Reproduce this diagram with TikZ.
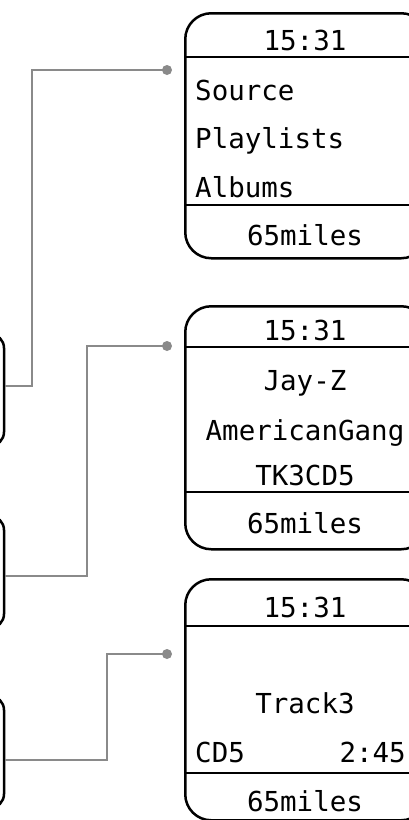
\documentclass[tikz,border=0pt]{standalone}
\usepackage{fontspec}
\setmonofont{DejaVu Sans Mono}
\definecolor{wiregray}{HTML}{8A8A8A}
\begin{document}
\begin{tikzpicture}[x=1pt,y=-1pt,
    screen/.style={draw, line width=2.5pt, rounded corners=26pt, minimum width=242pt, inner sep=0, anchor=north west},
    knob/.style={draw, line width=2.5pt, rounded corners=14pt, minimum width=108pt, minimum height=112pt, inner sep=0},
    rule/.style={line width=2.5pt},
    wire/.style={draw=wiregray, line width=2.5pt},
    pin/.style={circle, fill=wiregray, inner sep=0, minimum size=10pt},
    lcd/.style={font=\ttfamily\fontsize{27.5}{30}\selectfont, inner sep=0, anchor=base}]

      \useasboundingbox[fill=white] (0,0) rectangle (408,820);

      % screens
      \node[screen, minimum height=245pt] (menu) at (184,12) {};
      \node[screen, minimum height=243pt] (album) at (184,305) {};
      \node[screen, minimum height=241pt] (track) at (184,578) {};

      \draw[rule] (menu.west |- 0,57) -- (menu.east |- 0,57);
      \draw[rule] (menu.west |- 0,205) -- (menu.east |- 0,205);
      \draw[rule] (album.west |- 0,347) -- (album.east |- 0,347);
      \draw[rule] (album.west |- 0,492) -- (album.east |- 0,492);
      \draw[rule] (track.west |- 0,626) -- (track.east |- 0,626);
      \draw[rule] (track.west |- 0,773) -- (track.east |- 0,773);

      % menu screen
      \node[lcd] (menutime) at (305,50) {15:31};
      \node[lcd, anchor=base west] (source) at (195,100) {Source};
      \node[lcd, anchor=base west] (playlists) at (195,148) {Playlists};
      \node[lcd, anchor=base west] (albums) at (195,197) {Albums};
      \node[lcd] (menumiles) at (305,245) {65miles};

      % album screen
      \node[lcd] (albumtime) at (305,340) {15:31};
      \node[lcd] (artist) at (305,390) {Jay-Z};
      \node[lcd] (title) at (305,440) {AmericanGang};
      \node[lcd] (tkcd) at (305,485) {TK3CD5};
      \node[lcd] (albummiles) at (305,533) {65miles};

      % track screen
      \node[lcd] (tracktime) at (305,617) {15:31};
      \node[lcd] (trackno) at (305,713) {Track3};
      \node[lcd, anchor=base west] (disc) at (195,762) {CD5};
      \node[lcd, anchor=base east] (elapsed) at (406,762) {2:45};
      \node[lcd] (trackmiles) at (305,811) {65miles};

      % knobs on the left
      \node[knob] (k1) at (-50,390) {};
      \node[knob] (k2) at (-50,572) {};
      \node[knob] (k3) at (-50,752) {};

      \coordinate (k1in) at (k1.east |- 0,386);
      \coordinate (k2in) at (k2.east |- 0,576);
      \coordinate (k3in) at (k3.east |- 0,760);

      % wires
      \node[pin] (p1) at (167,70) {};
      \node[pin] (p2) at (167,346) {};
      \node[pin] (p3) at (167,654) {};

      \coordinate (bend1) at (32,70);
      \coordinate (bend2) at (87,346);
      \coordinate (bend3) at (107,654);

      \draw[wire] (k1in) -| (bend1) -- (p1.center);
      \draw[wire] (k2in) -| (bend2) -- (p2.center);
      \draw[wire] (k3in) -| (bend3) -- (p3.center);

    \end{tikzpicture}
\end{document}
